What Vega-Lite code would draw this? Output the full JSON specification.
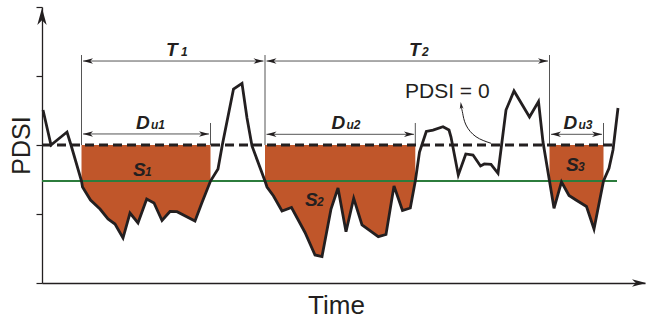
{
  "$schema": "https://vega.github.io/schema/vega-lite/v6.json",
  "width": 603,
  "height": 276,
  "autosize": {"type": "none"},
  "padding": {"left": 42, "top": 7, "right": 2, "bottom": 37},
  "background": "white",
  "config": {"view": {"stroke": null}, "font": "Liberation Sans", "axis": {"grid": false}},
  "datasets": {
    "curve": [
      {"t": 1, "pdsi": 0.507}, {"t": 9, "pdsi": 0}, {"t": 25, "pdsi": 0.188}, {"t": 29, "pdsi": 0},
      {"t": 39.5, "pdsi": -0.522}, {"t": 40.5, "pdsi": -0.609}, {"t": 48.5, "pdsi": -0.797}, {"t": 58, "pdsi": -0.928},
      {"t": 66, "pdsi": -1.072}, {"t": 73, "pdsi": -1.145}, {"t": 81, "pdsi": -1.348}, {"t": 88, "pdsi": -0.986},
      {"t": 96, "pdsi": -1.13}, {"t": 104.7, "pdsi": -0.783}, {"t": 112, "pdsi": -0.841}, {"t": 120, "pdsi": -1.094},
      {"t": 128, "pdsi": -0.964}, {"t": 135, "pdsi": -0.967}, {"t": 153, "pdsi": -1.101}, {"t": 159.7, "pdsi": -0.845},
      {"t": 168.5, "pdsi": -0.522}, {"t": 176, "pdsi": -0.348}, {"t": 180.3, "pdsi": 0}, {"t": 191.5, "pdsi": 0.812},
      {"t": 200, "pdsi": 0.894}, {"t": 205, "pdsi": 0.391}, {"t": 210, "pdsi": -0.014}, {"t": 223, "pdsi": -0.522},
      {"t": 225, "pdsi": -0.609}, {"t": 231.5, "pdsi": -0.739}, {"t": 240, "pdsi": -0.957}, {"t": 249.5, "pdsi": -0.906},
      {"t": 263, "pdsi": -1.268}, {"t": 273, "pdsi": -1.594}, {"t": 280, "pdsi": -1.616}, {"t": 289, "pdsi": -0.928},
      {"t": 296, "pdsi": -0.623}, {"t": 304, "pdsi": -1.257}, {"t": 311.7, "pdsi": -0.772}, {"t": 320, "pdsi": -1.159},
      {"t": 336.3, "pdsi": -1.329}, {"t": 344, "pdsi": -1.297}, {"t": 352, "pdsi": -0.594}, {"t": 360.5, "pdsi": -0.949},
      {"t": 368.3, "pdsi": -0.913}, {"t": 373.3, "pdsi": -0.522}, {"t": 377.5, "pdsi": -0.101}, {"t": 384.3, "pdsi": 0.196},
      {"t": 391, "pdsi": 0.217}, {"t": 401, "pdsi": 0.265}, {"t": 407, "pdsi": 0.217}, {"t": 409, "pdsi": 0.116},
      {"t": 416.3, "pdsi": -0.435}, {"t": 423.8, "pdsi": -0.13}, {"t": 431, "pdsi": -0.145}, {"t": 438.5, "pdsi": -0.304},
      {"t": 442.3, "pdsi": -0.275}, {"t": 449, "pdsi": -0.28}, {"t": 456, "pdsi": -0.41}, {"t": 464, "pdsi": 0.507},
      {"t": 472, "pdsi": 0.783}, {"t": 487.5, "pdsi": 0.406}, {"t": 496.5, "pdsi": 0.63}, {"t": 501, "pdsi": 0.043},
      {"t": 507.5, "pdsi": -0.522}, {"t": 512, "pdsi": -0.917}, {"t": 519.5, "pdsi": -0.536}, {"t": 527, "pdsi": -0.732},
      {"t": 534, "pdsi": -0.797}, {"t": 544.5, "pdsi": -0.891}, {"t": 552, "pdsi": -1.217}, {"t": 561.5, "pdsi": -0.522},
      {"t": 567, "pdsi": -0.338}, {"t": 571, "pdsi": -0.072}, {"t": 576, "pdsi": 0.536}
    ],
    "zero": [{"t": 1, "pdsi": 0}, {"t": 571, "pdsi": 0}],
    "threshold": [{"t": 0, "pdsi": -0.522}, {"t": 575, "pdsi": -0.522}],
    "guides": [
      {"t": 39.5, "top": 1.304}, {"t": 223, "top": 1.304}, {"t": 507.5, "top": 1.304},
      {"t": 168.5, "top": 0.319}, {"t": 373.3, "top": 0.319}, {"t": 561.5, "top": 0.319}
    ],
    "spans": [
      {"name": "T1", "start": 41, "end": 221.5, "level": 1.217},
      {"name": "T2", "start": 224.5, "end": 506, "level": 1.217},
      {"name": "Du1", "start": 41, "end": 167, "level": 0.16},
      {"name": "Du2", "start": 224.5, "end": 372, "level": 0.155},
      {"name": "Du3", "start": 509, "end": 560, "level": 0.155}
    ],
    "callout": [
      {"i": 1, "t": 449, "pdsi": 0.025}, {"i": 2, "t": 434, "pdsi": 0.12}, {"i": 3, "t": 424, "pdsi": 0.29},
      {"i": 4, "t": 420.7, "pdsi": 0.459}, {"i": 5, "t": 419.2, "pdsi": 0.55}
    ],
    "calloutTip": [{"t": 418.7, "pdsi": 0.623}],
    "labels": [
      {"text": "T", "role": "main", "t": 124, "pdsi": 1.283},
      {"text": "1", "role": "sub", "t": 139, "pdsi": 1.283},
      {"text": "T", "role": "main", "t": 367, "pdsi": 1.283},
      {"text": "2", "role": "sub", "t": 380, "pdsi": 1.283},
      {"text": "D", "role": "main", "t": 94, "pdsi": 0.237},
      {"text": "u1", "role": "sub", "t": 109, "pdsi": 0.237},
      {"text": "D", "role": "main", "t": 289.5, "pdsi": 0.237},
      {"text": "u2", "role": "sub", "t": 304.5, "pdsi": 0.237},
      {"text": "D", "role": "main", "t": 521.5, "pdsi": 0.237},
      {"text": "u3", "role": "sub", "t": 536.5, "pdsi": 0.237},
      {"text": "S", "role": "main", "t": 91, "pdsi": -0.449},
      {"text": "1", "role": "sub", "t": 103, "pdsi": -0.449},
      {"text": "S", "role": "main", "t": 263, "pdsi": -0.877},
      {"text": "2", "role": "sub", "t": 275, "pdsi": -0.877},
      {"text": "S", "role": "main", "t": 524, "pdsi": -0.384},
      {"text": "3", "role": "sub", "t": 536, "pdsi": -0.384},
      {"text": "PDSI = 0", "role": "note", "t": 363, "pdsi": 0.677}
    ],
    "axisTips": [
      {"axis": "y", "t": 0, "pdsi": 1.986},
      {"axis": "x", "t": 604, "pdsi": -2}
    ]
  },
  "layer": [
    {
      "data": {"name": "curve"},
      "transform": [{"filter": {"field": "t", "range": [39.5, 168.5]}}],
      "mark": {"type": "area", "color": "#C0562A", "opacity": 1},
      "encoding": {
        "x": {"field": "t", "type": "quantitative", "scale": {"domain": [0, 603], "nice": false, "zero": false},
          "axis": {"title": "Time", "labels": false, "ticks": false, "domainColor": "#231F20", "domainWidth": 1.3,
            "titleFont": "Liberation Sans", "titleFontSize": 26, "titleFontWeight": "normal", "titleColor": "#231F20",
            "titleX": 294, "titleY": 30, "titleAlign": "center", "titleBaseline": "alphabetic"}},
        "y": {"field": "pdsi", "type": "quantitative", "scale": {"domain": [-2, 2], "nice": false, "zero": false},
          "axis": {"title": "PDSI", "values": [-2, -1, 0, 1, 2], "labels": false, "tickSize": 6, "tickColor": "#231F20",
            "tickWidth": 1.2, "domainColor": "#231F20", "domainWidth": 1.3,
            "titleFont": "Liberation Sans", "titleFontSize": 25, "titleFontWeight": "normal", "titleColor": "#231F20",
            "titleX": -13, "titleY": 138, "titleAngle": 270, "titleAlign": "center", "titleBaseline": "alphabetic"}},
        "y2": {"datum": 0}
      }
    },
    {
      "data": {"name": "curve"},
      "transform": [{"filter": {"field": "t", "range": [223, 373.3]}}],
      "mark": {"type": "area", "color": "#C0562A", "opacity": 1},
      "encoding": {
        "x": {"field": "t", "type": "quantitative"},
        "y": {"field": "pdsi", "type": "quantitative"},
        "y2": {"datum": 0}
      }
    },
    {
      "data": {"name": "curve"},
      "transform": [{"filter": {"field": "t", "range": [507.5, 561.5]}}],
      "mark": {"type": "area", "color": "#C0562A", "opacity": 1},
      "encoding": {
        "x": {"field": "t", "type": "quantitative"},
        "y": {"field": "pdsi", "type": "quantitative"},
        "y2": {"datum": 0}
      }
    },
    {
      "data": {"name": "threshold"},
      "mark": {"type": "line", "color": "#2C7C3C", "strokeWidth": 1.8},
      "encoding": {
        "x": {"field": "t", "type": "quantitative"},
        "y": {"field": "pdsi", "type": "quantitative"}
      }
    },
    {
      "data": {"name": "guides"},
      "mark": {"type": "rule", "color": "#555555", "strokeWidth": 1},
      "encoding": {
        "x": {"field": "t", "type": "quantitative"},
        "y": {"field": "top", "type": "quantitative"},
        "y2": {"datum": 0}
      }
    },
    {
      "data": {"name": "zero"},
      "mark": {"type": "line", "color": "#231F20", "strokeWidth": 3, "strokeDash": [9, 5]},
      "encoding": {
        "x": {"field": "t", "type": "quantitative"},
        "y": {"field": "pdsi", "type": "quantitative"}
      }
    },
    {
      "data": {"name": "curve"},
      "mark": {"type": "line", "color": "#231F20", "strokeWidth": 2.8, "strokeJoin": "miter"},
      "encoding": {
        "x": {"field": "t", "type": "quantitative"},
        "y": {"field": "pdsi", "type": "quantitative"}
      }
    },
    {
      "data": {"name": "spans"},
      "mark": {"type": "rule", "color": "#555555", "strokeWidth": 1},
      "encoding": {
        "x": {"field": "start", "type": "quantitative"},
        "x2": {"field": "end"},
        "y": {"field": "level", "type": "quantitative"}
      }
    },
    {
      "data": {"name": "spans"},
      "mark": {"type": "point", "shape": "M0,0L0.55,2L0,1.45L-0.55,2Z", "filled": true, "size": 100, "color": "#231F20", "opacity": 1, "angle": 270, "strokeWidth": 0},
      "encoding": {
        "x": {"field": "start", "type": "quantitative"},
        "y": {"field": "level", "type": "quantitative"}
      }
    },
    {
      "data": {"name": "spans"},
      "mark": {"type": "point", "shape": "M0,0L0.55,2L0,1.45L-0.55,2Z", "filled": true, "size": 100, "color": "#231F20", "opacity": 1, "angle": 90, "strokeWidth": 0},
      "encoding": {
        "x": {"field": "end", "type": "quantitative"},
        "y": {"field": "level", "type": "quantitative"}
      }
    },
    {
      "data": {"name": "callout"},
      "mark": {"type": "line", "color": "#231F20", "strokeWidth": 1, "interpolate": "natural"},
      "encoding": {
        "x": {"field": "t", "type": "quantitative"},
        "y": {"field": "pdsi", "type": "quantitative"},
        "order": {"field": "i", "type": "quantitative"}
      }
    },
    {
      "data": {"name": "calloutTip"},
      "mark": {"type": "point", "shape": "M0,0L0.55,2L0,1.45L-0.55,2Z", "filled": true, "size": 49, "color": "#231F20", "opacity": 1, "angle": 352, "strokeWidth": 0},
      "encoding": {
        "x": {"field": "t", "type": "quantitative"},
        "y": {"field": "pdsi", "type": "quantitative"}
      }
    },
    {
      "data": {"name": "labels"},
      "transform": [{"filter": "datum.role === 'main'"}],
      "mark": {"type": "text", "font": "Liberation Sans", "fontStyle": "italic", "fontWeight": "bold", "fontSize": 19, "align": "left", "baseline": "alphabetic", "color": "#231F20"},
      "encoding": {
        "x": {"field": "t", "type": "quantitative"},
        "y": {"field": "pdsi", "type": "quantitative"},
        "text": {"field": "text"}
      }
    },
    {
      "data": {"name": "labels"},
      "transform": [{"filter": "datum.role === 'sub'"}],
      "mark": {"type": "text", "font": "Liberation Sans", "fontStyle": "italic", "fontWeight": "bold", "fontSize": 12, "align": "left", "baseline": "alphabetic", "color": "#231F20"},
      "encoding": {
        "x": {"field": "t", "type": "quantitative"},
        "y": {"field": "pdsi", "type": "quantitative"},
        "text": {"field": "text"}
      }
    },
    {
      "data": {"name": "labels"},
      "transform": [{"filter": "datum.role === 'note'"}],
      "mark": {"type": "text", "font": "Liberation Sans", "fontSize": 21, "align": "left", "baseline": "alphabetic", "color": "#231F20"},
      "encoding": {
        "x": {"field": "t", "type": "quantitative"},
        "y": {"field": "pdsi", "type": "quantitative"},
        "text": {"field": "text"}
      }
    },
    {
      "data": {"name": "axisTips"},
      "transform": [{"filter": "datum.axis === 'y'"}],
      "mark": {"type": "point", "shape": "M0,0L0.55,2L0,1.45L-0.55,2Z", "filled": true, "size": 289, "color": "#231F20", "opacity": 1, "angle": 0, "strokeWidth": 0, "clip": false},
      "encoding": {
        "x": {"field": "t", "type": "quantitative"},
        "y": {"field": "pdsi", "type": "quantitative"}
      }
    },
    {
      "data": {"name": "axisTips"},
      "transform": [{"filter": "datum.axis === 'x'"}],
      "mark": {"type": "point", "shape": "M0,0L0.55,2L0,1.45L-0.55,2Z", "filled": true, "size": 196, "color": "#231F20", "opacity": 1, "angle": 90, "strokeWidth": 0, "clip": false},
      "encoding": {
        "x": {"field": "t", "type": "quantitative"},
        "y": {"field": "pdsi", "type": "quantitative"}
      }
    }
  ]
}
